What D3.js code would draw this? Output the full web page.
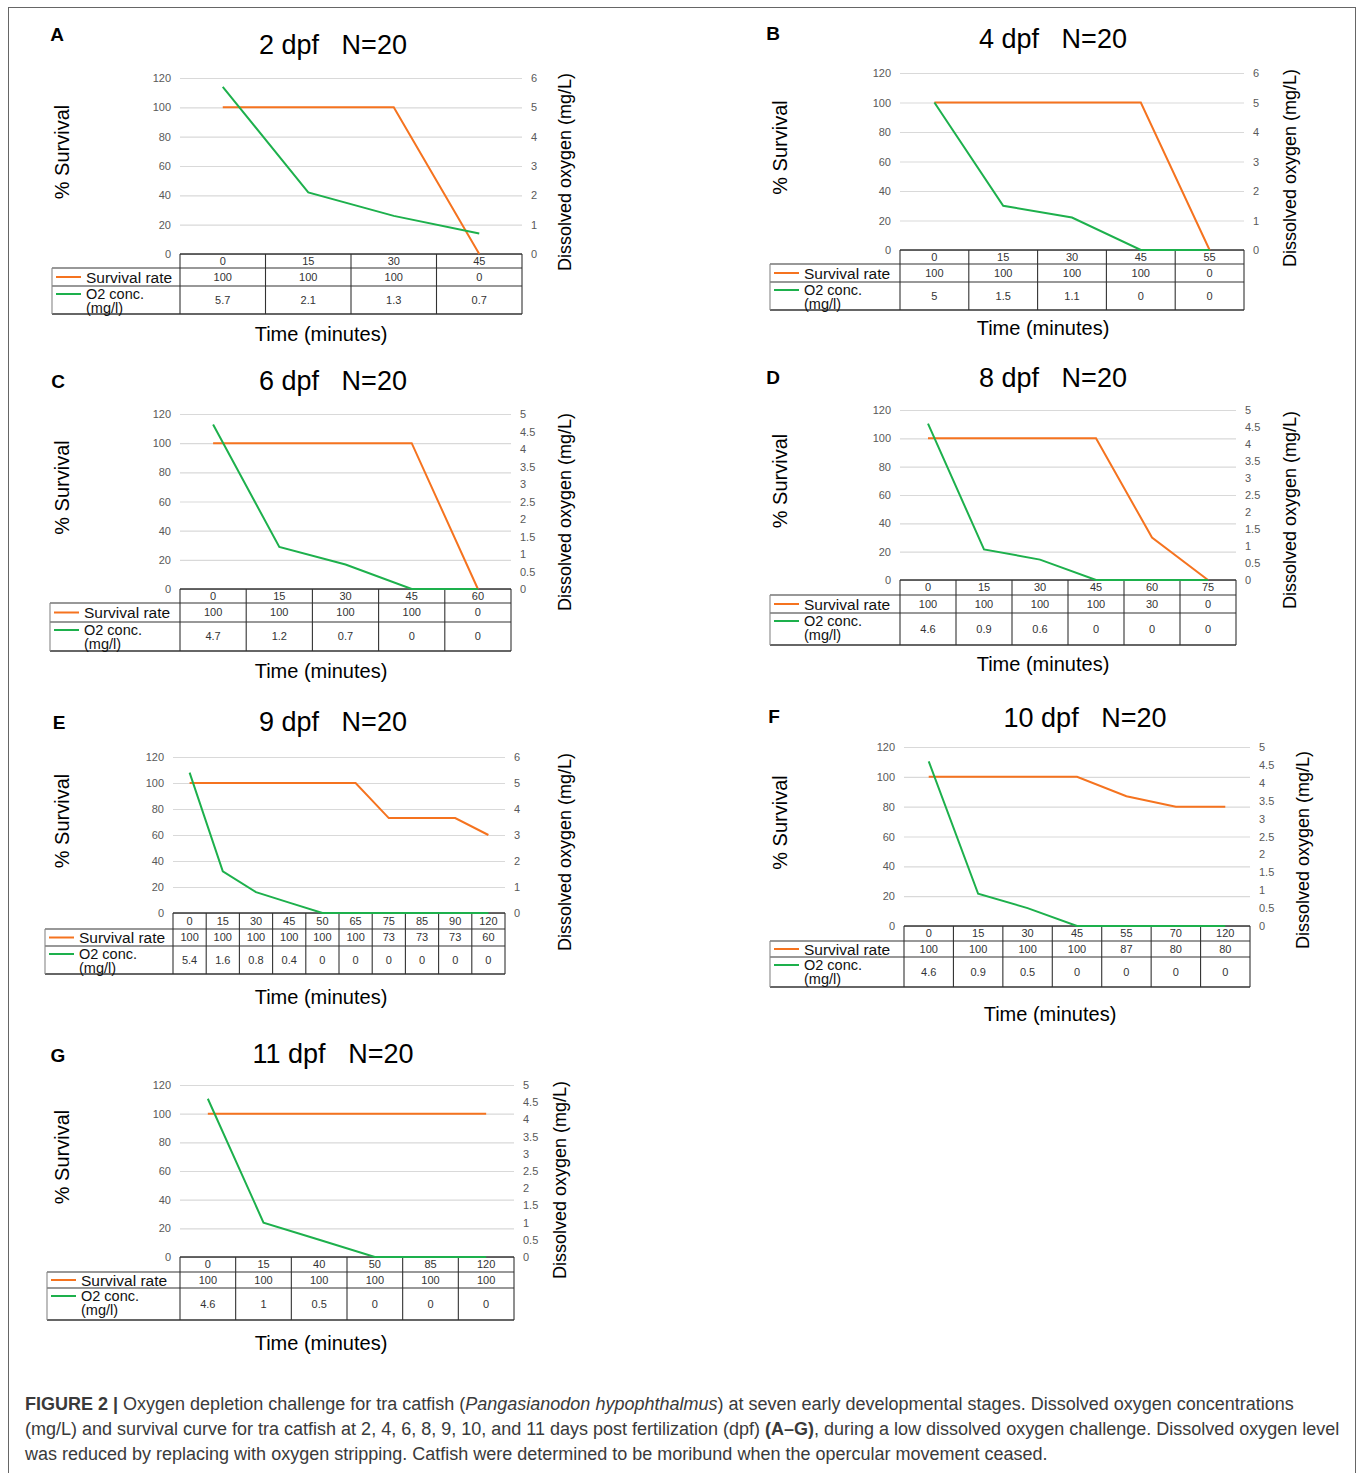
<!DOCTYPE html>
<html>
<head>
<meta charset="utf-8">
<script src="https://cdn.jsdelivr.net/npm/d3@7"></script>
<style>
  body { margin: 0; background: #fff; }
  svg text { font-family: "Liberation Sans", Arial, sans-serif; }
  .tick text { font-family: "Liberation Sans Narrow", "Liberation Sans", Arial, sans-serif; }
</style>
</head>
<body>
<svg width="1360" height="1473"></svg>
<script>
// data per panel (time in minutes, % survival, O2 mg/l)
const labelsA = ["0", "15", "30", "45"];
const survA = [100, 100, 100, 0];
const o2A = [5.7, 2.1, 1.3, 0.7];

const labelsB = ["0", "15", "30", "45", "55"];
const survB = [100, 100, 100, 100, 0];
const o2B = [5, 1.5, 1.1, 0, 0];

const labelsC = ["0", "15", "30", "45", "60"];
const survC = [100, 100, 100, 100, 0];
const o2C = [4.7, 1.2, 0.7, 0, 0];

const labelsD = ["0", "15", "30", "45", "60", "75"];
const survD = [100, 100, 100, 100, 30, 0];
const o2D = [4.6, 0.9, 0.6, 0, 0, 0];

const labelsE = ["0", "15", "30", "45", "50", "65", "75", "85", "90", "120"];
const survE = [100, 100, 100, 100, 100, 100, 73, 73, 73, 60];
const o2E = [5.4, 1.6, 0.8, 0.4, 0, 0, 0, 0, 0, 0];

const labelsF = ["0", "15", "30", "45", "55", "70", "120"];
const survF = [100, 100, 100, 100, 87, 80, 80];
const o2F = [4.6, 0.9, 0.5, 0, 0, 0, 0];

const labelsG = ["0", "15", "40", "50", "85", "120"];
const survG = [100, 100, 100, 100, 100, 100];
const o2G = [4.6, 1, 0.5, 0, 0, 0];

const letters = ["A", "B", "C", "D", "E", "F", "G"];
const titles = ["2 dpf   N=20", "4 dpf   N=20", "6 dpf   N=20", "8 dpf   N=20",
                "9 dpf   N=20", "10 dpf   N=20", "11 dpf   N=20"];
const o2Max = [6, 6, 5, 5, 6, 5, 5];
const survTicks = [0, 20, 40, 60, 80, 100, 120];

// layout of each panel (pixels)
const layout = [
  {x0: 180, x1: 522, top: 78, bot: 254, lab: 52, rows: [14, 18, 28], rx: 565, ry: 172, lx: 62, tx: 333, ty: 44, let: [57, 34], time: [321, 334]},
  {x0: 900, x1: 1244, top: 73, bot: 250, lab: 770, rows: [14, 18, 28], rx: 1290, ry: 168, lx: 780, tx: 1053, ty: 38, let: [773, 33], time: [1043, 328]},
  {x0: 180, x1: 511, top: 414, bot: 589, lab: 50, rows: [14, 19, 29], rx: 565, ry: 512, lx: 62, tx: 333, ty: 380, let: [58, 381], time: [321, 671]},
  {x0: 900, x1: 1236, top: 410, bot: 580, lab: 770, rows: [15, 18, 32], rx: 1290, ry: 510, lx: 780, tx: 1053, ty: 377, let: [773, 377], time: [1043, 664]},
  {x0: 173, x1: 505, top: 757, bot: 913, lab: 45, rows: [16, 17, 28], rx: 565, ry: 852, lx: 62, tx: 333, ty: 721, let: [59, 722], time: [321, 997]},
  {x0: 904, x1: 1250, top: 747, bot: 926, lab: 770, rows: [15, 16, 30], rx: 1303, ry: 850, lx: 780, tx: 1085, ty: 717, let: [774, 716], time: [1050, 1014]},
  {x0: 180, x1: 514, top: 1085, bot: 1257, lab: 47, rows: [15, 16, 32], rx: 560, ry: 1180, lx: 62, tx: 333, ty: 1053, let: [58, 1055], time: [321, 1343]}
];

const panels = [
  [labelsA, survA, o2A], [labelsB, survB, o2B], [labelsC, survC, o2C], [labelsD, survD, o2D],
  [labelsE, survE, o2E], [labelsF, survF, o2F], [labelsG, survG, o2G]
].map((p, i) => ({labels: p[0], surv: p[1], o2: p[2], letter: letters[i], title: titles[i], o2Max: o2Max[i], L: layout[i]}));

const ORANGE = "#F5731F", GREEN = "#1DB04C";
const svg = d3.select("svg");

// figure border
svg.append("rect").attr("x", 8.5).attr("y", 7.5).attr("width", 1347).attr("height", 1500)
  .attr("fill", "none").attr("stroke", "#666").attr("stroke-width", 1);

panels.forEach(p => {
  const L = p.L;
  const g = svg.append("g");
  const x = d3.scaleBand().domain(p.labels).range([L.x0, L.x1]);
  const cx = d => x(d) + x.bandwidth() / 2;
  const yL = d3.scaleLinear().domain([0, 120]).range([L.bot, L.top]);
  const yR = d3.scaleLinear().domain([0, p.o2Max]).range([L.bot, L.top]);
  const rTicks = d3.range(0, p.o2Max + 0.001, p.o2Max === 6 ? 1 : 0.5);

  // gridlines
  g.append("g").attr("transform", `translate(${L.x0},0)`)
    .call(d3.axisLeft(yL).tickValues(survTicks).tickSize(-(L.x1 - L.x0)).tickFormat(""))
    .call(a => a.select(".domain").remove())
    .call(a => a.selectAll("line").attr("stroke", "#d9d9d9").attr("stroke-width", 1.2));

  // left axis labels
  g.append("g").attr("transform", `translate(${L.x0 - 3},0)`)
    .call(d3.axisLeft(yL).tickValues(survTicks).tickSize(0).tickPadding(6))
    .call(a => a.select(".domain").remove())
    .call(a => a.selectAll("text").attr("font-size", 11).attr("fill", "#595959"));

  // right axis labels
  g.append("g").attr("transform", `translate(${L.x1 + 3},0)`)
    .call(d3.axisRight(yR).tickValues(rTicks).tickSize(0).tickPadding(6).tickFormat(d3.format("~g")))
    .call(a => a.select(".domain").remove())
    .call(a => a.selectAll("text").attr("font-size", 11).attr("fill", "#595959"));

  // data table
  const [h0, h1, h2] = L.rows;
  const yH = L.bot, y1 = yH + h0, y2 = y1 + h1, y3 = y2 + h2;
  const tb = g.append("g").attr("stroke", "#333").attr("stroke-width", 1.1).attr("fill", "none");
  tb.append("line").attr("x1", L.x0).attr("x2", L.x1).attr("y1", yH).attr("y2", yH).attr("stroke-width", 1.6);
  tb.append("line").attr("x1", L.lab).attr("x2", L.x1).attr("y1", y1).attr("y2", y1);
  tb.append("line").attr("x1", L.lab).attr("x2", L.x1).attr("y1", y2).attr("y2", y2);
  tb.append("line").attr("x1", L.lab).attr("x2", L.x1).attr("y1", y3).attr("y2", y3).attr("stroke-width", 1.6);
  tb.append("line").attr("x1", L.lab).attr("x2", L.lab).attr("y1", y1).attr("y2", y3).attr("stroke", "#888");
  tb.selectAll(".v").data(p.labels).enter().append("line")
    .attr("x1", d => x(d)).attr("x2", d => x(d)).attr("y1", yH).attr("y2", y3);
  tb.append("line").attr("x1", L.x1).attr("x2", L.x1).attr("y1", yH).attr("y2", y3);

  const cell = (vals, yc) => g.append("g").selectAll("text").data(vals).enter().append("text")
    .attr("x", (d, i) => cx(p.labels[i])).attr("y", yc).attr("dy", "0.36em")
    .attr("text-anchor", "middle").attr("font-size", 11).attr("fill", "#333")
    .style("font-family", '"Liberation Sans Narrow", "Liberation Sans", Arial, sans-serif')
    .text(d => d);
  cell(p.labels, (yH + y1) / 2);
  cell(p.surv, (y1 + y2) / 2);
  cell(p.o2, (y2 + y3) / 2);

  // row labels with legend keys
  g.append("line").attr("x1", L.lab + 4).attr("x2", L.lab + 29)
    .attr("y1", (y1 + y2) / 2).attr("y2", (y1 + y2) / 2).attr("stroke", ORANGE).attr("stroke-width", 2);
  g.append("line").attr("x1", L.lab + 4).attr("x2", L.lab + 29)
    .attr("y1", y2 + 8).attr("y2", y2 + 8).attr("stroke", GREEN).attr("stroke-width", 2);
  g.append("text").attr("x", L.lab + 34).attr("y", (y1 + y2) / 2).attr("dy", "0.36em")
    .attr("font-size", 15.5).attr("fill", "#111").text("Survival rate");
  g.append("text").attr("x", L.lab + 34).attr("y", y2 + 8).attr("dy", "0.36em")
    .attr("font-size", 14.5).attr("fill", "#111").text("O2 conc.");
  g.append("text").attr("x", L.lab + 34).attr("y", y2 + 22).attr("dy", "0.36em")
    .attr("font-size", 14.5).attr("fill", "#111").text("(mg/l)");

  // series lines
  const line = (yS, vals) => d3.line().x((d, i) => cx(p.labels[i])).y(d => yS(d))(vals);
  g.append("path").attr("d", line(yL, p.surv)).attr("fill", "none")
    .attr("stroke", ORANGE).attr("stroke-width", 2);
  g.append("path").attr("d", line(yR, p.o2)).attr("fill", "none")
    .attr("stroke", GREEN).attr("stroke-width", 2);

  // titles
  g.append("text").attr("x", L.let[0]).attr("y", L.let[1]).attr("dy", "0.36em")
    .attr("text-anchor", "middle").attr("font-size", 19).attr("font-weight", "bold").text(p.letter);
  g.append("text").attr("x", L.tx).attr("y", L.ty).attr("dy", "0.36em")
    .attr("text-anchor", "middle").attr("font-size", 27).style("white-space", "pre").text(p.title);
  g.append("text").attr("transform", `translate(${L.lx},${(L.top + L.bot) / 2 - 14}) rotate(-90)`)
    .attr("dy", "0.36em").attr("text-anchor", "middle").attr("font-size", 20).text("% Survival");
  g.append("text").attr("transform", `translate(${L.rx},${L.ry}) rotate(-90)`)
    .attr("dy", "0.36em").attr("text-anchor", "middle").attr("font-size", 18).text("Dissolved oxygen (mg/L)");
  g.append("text").attr("x", L.time[0]).attr("y", L.time[1]).attr("dy", "0.36em")
    .attr("text-anchor", "middle").attr("font-size", 20).text("Time (minutes)");
});

// caption
const cap = svg.append("text").attr("font-size", 18).attr("fill", "#3a3a3a");
const l1 = cap.append("tspan").attr("x", 25).attr("y", 1410);
l1.append("tspan").attr("font-weight", "bold").text("FIGURE 2 | ");
l1.append("tspan").text("Oxygen depletion challenge for tra catfish (");
l1.append("tspan").attr("font-style", "italic").text("Pangasianodon hypophthalmus");
l1.append("tspan").text(") at seven early developmental stages. Dissolved oxygen concentrations");
const l2 = cap.append("tspan").attr("x", 25).attr("y", 1435);
l2.append("tspan").text("(mg/L) and survival curve for tra catfish at 2, 4, 6, 8, 9, 10, and 11 days post fertilization (dpf) ");
l2.append("tspan").attr("font-weight", "bold").text("(A–G)");
l2.append("tspan").text(", during a low dissolved oxygen challenge. Dissolved oxygen level");
cap.append("tspan").attr("x", 25).attr("y", 1460)
  .text("was reduced by replacing with oxygen stripping. Catfish were determined to be moribund when the opercular movement ceased.");
</script>
</body>
</html>
